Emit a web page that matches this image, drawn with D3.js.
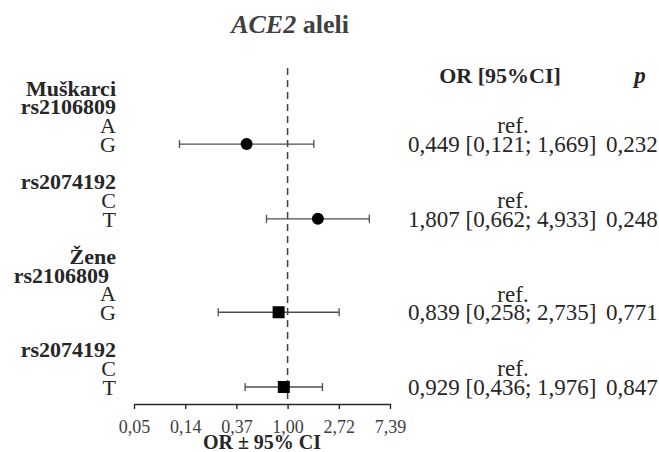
<!DOCTYPE html>
<html>
<head>
<meta charset="utf-8">
<script src="https://cdn.jsdelivr.net/npm/d3@7"></script>
<style>
  body { margin: 0; background: #fff; }
  text { font-family: "Liberation Serif", "Times New Roman", serif; }
</style>
</head>
<body>
<div id="chart"></div>
<script>
// data
var sexes = ["Muškarci", "Muškarci", "Žene", "Žene"];
var snps = ["rs2106809", "rs2074192", "rs2106809", "rs2074192"];
var refAlleles = ["A", "C", "A", "C"];
var riskAlleles = ["G", "T", "G", "T"];
var orValues = [0.449, 1.807, 0.839, 0.929];
var ciLow = [0.121, 0.662, 0.258, 0.436];
var ciHigh = [1.669, 4.933, 2.735, 1.976];
var pValues = [0.232, 0.248, 0.771, 0.847];
var tickValues = [0.0498, 0.1353, 0.3679, 1, 2.7183, 7.389];

var width = 659, height = 452;

var svg = d3.select("#chart").append("svg")
    .attr("width", width)
    .attr("height", height);

// build the row list: sex header, snp, ref allele, risk allele, blank
var rows = [];
var lastSex = null;
sexes.forEach(function(s, i) {
    if (s !== lastSex) {
        rows.push({id: "sex" + i, type: "sex", label: s});
        lastSex = s;
    }
    rows.push({id: "snp" + i, type: "snp", label: snps[i], i: i});
    rows.push({id: "ref" + i, type: "ref", label: refAlleles[i], i: i});
    rows.push({id: "alt" + i, type: "alt", label: riskAlleles[i], i: i});
    if (i < sexes.length - 1) rows.push({id: "blank" + i, type: "blank", label: ""});
});

var y = d3.scalePoint()
    .domain(rows.map(function(d) { return d.id; }))
    .range([88, 387]);

var x = d3.scaleLog()
    .domain([Math.exp(-3), Math.exp(2)])
    .range([134, 390]);

var comma = function(f) { return function(v) { return d3.format(f)(v).replace(".", ","); }; };
var fmt3 = comma(".3f");

// title
var title = svg.append("text")
    .attr("x", 290)
    .attr("y", 33)
    .attr("text-anchor", "middle")
    .attr("font-size", 26)
    .attr("font-weight", "bold")
    .attr("fill", "#404040");
title.append("tspan").attr("font-style", "italic").text("ACE2");
title.append("tspan").text(" aleli");

// left labels
svg.append("g").selectAll("text")
    .data(rows.filter(function(d) { return d.type !== "blank"; }))
    .enter().append("text")
    .attr("x", function(d) { return (d.type === "snp" && d.i === 2) ? 109 : 116; })
    .attr("y", function(d) { return y(d.id); })
    .attr("dy", "0.35em")
    .attr("text-anchor", "end")
    .attr("font-size", 22)
    .attr("font-weight", function(d) { return (d.type === "sex" || d.type === "snp") ? "bold" : "normal"; })
    .attr("fill", "#262626")
    .text(function(d) { return d.label; });

// reference line at OR = 1
svg.append("line")
    .attr("x1", x(1)).attr("x2", x(1))
    .attr("y1", 68).attr("y2", 404)
    .attr("stroke", "#404040")
    .attr("stroke-width", 1.5)
    .attr("stroke-dasharray", "7,5");

// axis
var axis = svg.append("g")
    .attr("transform", "translate(0,404)")
    .call(d3.axisBottom(x)
        .tickValues(tickValues)
        .tickFormat(comma(".2f"))
        .tickSize(5)
        .tickSizeOuter(0)
        .tickPadding(11));
axis.select(".domain").attr("stroke", "#262626").attr("stroke-width", 1.4);
axis.selectAll(".tick line").attr("stroke", "#262626").attr("stroke-width", 1.4);
axis.selectAll(".tick text")
    .attr("font-family", "Liberation Serif, serif")
    .attr("font-size", 18)
    .attr("fill", "#404040");

svg.append("text")
    .attr("x", 262)
    .attr("y", 449)
    .attr("text-anchor", "middle")
    .attr("font-size", 20)
    .attr("font-weight", "bold")
    .attr("fill", "#262626")
    .text("OR ± 95% CI");

// error bars and markers
var est = rows.filter(function(d) { return d.type === "alt"; });

var g = svg.append("g").selectAll(".est")
    .data(est)
    .enter().append("g")
    .attr("class", "est");

g.append("line")
    .attr("x1", function(d) { return x(ciLow[d.i]); })
    .attr("x2", function(d) { return x(ciHigh[d.i]); })
    .attr("y1", function(d) { return y(d.id); })
    .attr("y2", function(d) { return y(d.id); })
    .attr("stroke", "#4d4d4d")
    .attr("stroke-width", 1.3);

[ciLow, ciHigh].forEach(function(arr) {
    g.append("line")
        .attr("x1", function(d) { return x(arr[d.i]); })
        .attr("x2", function(d) { return x(arr[d.i]); })
        .attr("y1", function(d) { return y(d.id) - 4; })
        .attr("y2", function(d) { return y(d.id) + 4; })
        .attr("stroke", "#4d4d4d")
        .attr("stroke-width", 1.3);
});

g.filter(function(d) { return sexes[d.i] === "Muškarci"; })
    .append("circle")
    .attr("cx", function(d) { return x(orValues[d.i]); })
    .attr("cy", function(d) { return y(d.id); })
    .attr("r", 6)
    .attr("fill", "#000");

g.filter(function(d) { return sexes[d.i] !== "Muškarci"; })
    .append("rect")
    .attr("x", function(d) { return x(orValues[d.i]) - 6; })
    .attr("y", function(d) { return y(d.id) - 6; })
    .attr("width", 12)
    .attr("height", 12)
    .attr("fill", "#000");

// right columns
svg.append("text")
    .attr("x", 500).attr("y", 75).attr("dy", "0.35em")
    .attr("text-anchor", "middle")
    .attr("font-size", 22)
    .attr("font-weight", "bold")
    .attr("fill", "#262626")
    .text("OR [95%CI]");

svg.append("text")
    .attr("x", 640).attr("y", 75).attr("dy", "0.35em")
    .attr("text-anchor", "middle")
    .attr("font-size", 23)
    .attr("font-weight", "bold")
    .attr("font-style", "italic")
    .attr("fill", "#262626")
    .text("p");

svg.append("g").selectAll("text")
    .data(rows.filter(function(d) { return d.type === "ref"; }))
    .enter().append("text")
    .attr("x", 513)
    .attr("y", function(d) { return y(d.id); })
    .attr("dy", "0.35em")
    .attr("text-anchor", "middle")
    .attr("font-size", 23)
    .attr("fill", "#262626")
    .text("ref.");

svg.append("g").selectAll("text")
    .data(est)
    .enter().append("text")
    .attr("x", 408)
    .attr("y", function(d) { return y(d.id); })
    .attr("dy", "0.35em")
    .attr("font-size", 23)
    .attr("fill", "#262626")
    .text(function(d) {
        return fmt3(orValues[d.i]) + " [" + fmt3(ciLow[d.i]) + "; " + fmt3(ciHigh[d.i]) + "]";
    });

svg.append("g").selectAll("text")
    .data(est)
    .enter().append("text")
    .attr("x", 606)
    .attr("y", function(d) { return y(d.id); })
    .attr("dy", "0.35em")
    .attr("font-size", 23)
    .attr("fill", "#262626")
    .text(function(d) { return fmt3(pValues[d.i]); });
</script>
</body>
</html>
